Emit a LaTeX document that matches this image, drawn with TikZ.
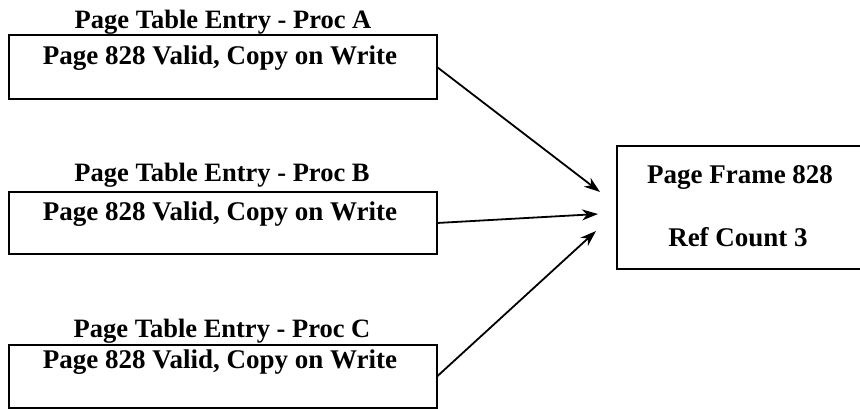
\documentclass[tikz,border=0pt]{standalone}
\usepackage{fontspec}
\setmainfont{Liberation Serif}
\usetikzlibrary{arrows.meta}
\begin{document}
\begin{tikzpicture}[x=1pt,y=-1pt,
  box/.style={draw, line width=2pt, inner sep=0pt, outer sep=0pt},
  ttl/.style={anchor=base, inner sep=0pt, font=\bfseries\fontsize{26.5}{30}\selectfont},
  txt/.style={anchor=base, inner sep=0pt, font=\bfseries\fontsize{27}{32}\selectfont},
  conn/.style={line width=1.8pt, -{Stealth[length=16pt,width=11pt,inset=5pt]}}]
\clip (0,0) rectangle (860,409);
\fill[white] (0,0) rectangle (860,409);
% boxes
\node[box, minimum width=428pt, minimum height=64pt] (A) at (223,67) {};
\node[box, minimum width=428pt, minimum height=62pt] (B) at (223,223) {};
\node[box, minimum width=428pt, minimum height=63pt] (C) at (223,376.5) {};
\node[box, minimum width=246pt, minimum height=123pt] (F) at (740,207.5) {};
% titles
\node[ttl] (tA) at (223,29) {Page Table Entry - Proc A};
\node[ttl] (tB) at (222,182) {Page Table Entry - Proc B};
\node[ttl] (tC) at (222,337) {Page Table Entry - Proc C};
% box texts
\node[txt] (xA) at (220,65) {Page 828 Valid, Copy on Write};
\node[txt] (xB) at (220,220) {Page 828 Valid, Copy on Write};
\node[txt] (xC) at (220,368) {Page 828 Valid, Copy on Write};
\node[txt] (f1) at (740,183) {Page Frame 828};
\node[txt] (f2) at (738,246) {Ref Count 3};
% arrow ends
\coordinate (tipA) at (600,192);
\coordinate (tipB) at (598,214);
\coordinate (tipC) at (596,231);
\draw[conn] (A.east) -- (tipA);
\draw[conn] (B.east) -- (tipB);
\draw[conn] (C.east) -- (tipC);
\end{tikzpicture}
\end{document}
